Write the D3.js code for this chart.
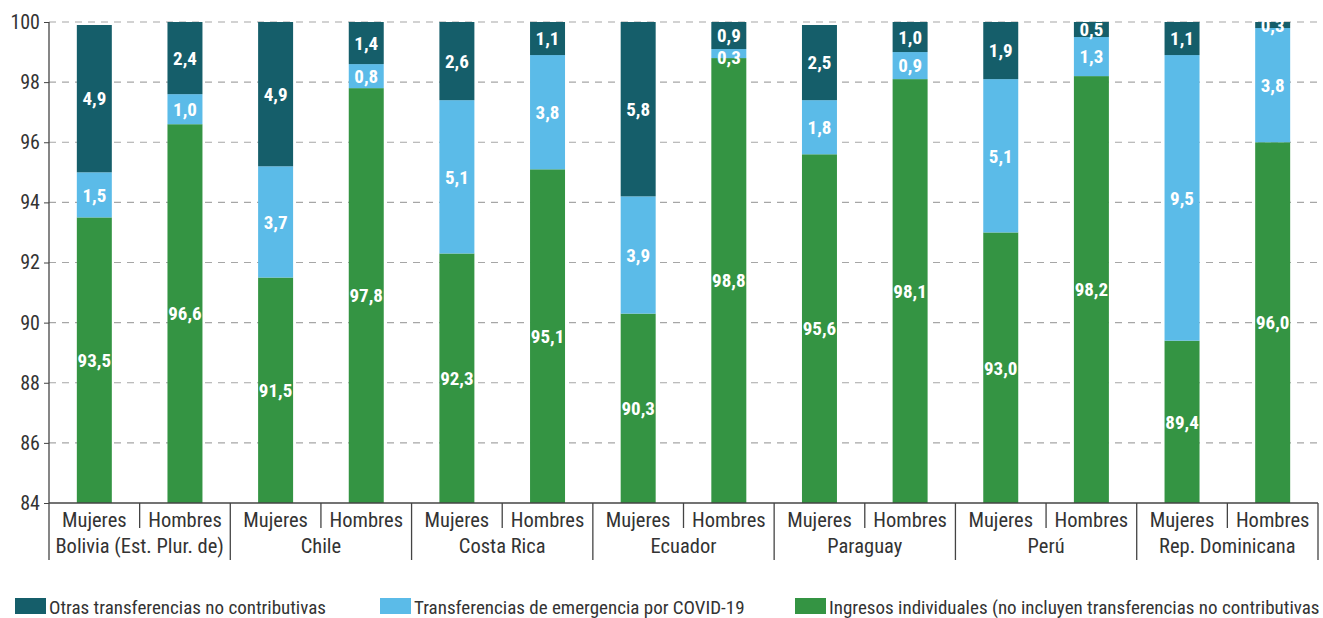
<!DOCTYPE html>
<html>
<head>
<meta charset="utf-8">
<script src="https://cdn.jsdelivr.net/npm/d3@7"></script>
<style>
  html, body { margin: 0; padding: 0; background: #fff; }
  svg { display: block; }
  text { font-family: "Liberation Sans Narrow", "Arial Narrow", "Roboto Condensed", "Liberation Sans", sans-serif; }
</style>
</head>
<body>
<svg id="chart" width="1323" height="618"></svg>
<script>
const countries = ["Bolivia (Est. Plur. de)", "Chile", "Costa Rica", "Ecuador", "Paraguay", "Perú", "Rep. Dominicana"];
const sexes = ["Mujeres", "Hombres"];
// values per country, [Mujeres, Hombres]
const ingresos = [[93.5, 96.6], [91.5, 97.8], [92.3, 95.1], [90.3, 98.8], [95.6, 98.1], [93.0, 98.2], [89.4, 96.0]];
const emergencia = [[1.5, 1.0], [3.7, 0.8], [5.1, 3.8], [3.9, 0.3], [1.8, 0.9], [5.1, 1.3], [9.5, 3.8]];
const otras = [[4.9, 2.4], [4.9, 1.4], [2.6, 1.1], [5.8, 0.9], [2.5, 1.0], [1.9, 0.5], [1.1, 0.3]];
const yTicks = [84, 86, 88, 90, 92, 94, 96, 98, 100];
const seriesNames = ["Otras transferencias no contributivas", "Transferencias de emergencia por COVID-19", "Ingresos individuales (no incluyen transferencias no contributivas"];
const colors = { ingresos: "#349443", emergencia: "#5bbbe8", otras: "#155e6a" };

const svg = d3.select("#chart");
const mLeft = 49, mRight = 1318, mTop = 22, mBottom = 503;

const x0 = d3.scaleBand().domain(countries).range([mLeft, mRight]).padding(0);
const x1 = d3.scaleBand().domain(sexes).range([0, x0.bandwidth()]).paddingInner(0.614).paddingOuter(0.307);
const y = d3.scaleLinear().domain([84, 100]).range([mBottom, mTop]);

// gridlines
svg.append("g").selectAll("line").data(yTicks.filter(t => t > 84)).join("line")
  .attr("x1", mLeft).attr("x2", 1323)
  .attr("y1", d => y(d)).attr("y2", d => y(d))
  .attr("stroke", "#a6a6a6").attr("stroke-width", 1.2).attr("stroke-dasharray", "7,6");

// build rows
const rows = [];
countries.forEach((c, i) => {
  sexes.forEach((s, j) => {
    const segs = [
      { key: "ingresos", v: ingresos[i][j] },
      { key: "emergencia", v: emergencia[i][j] },
      { key: "otras", v: otras[i][j] }
    ];
    let acc = 0;
    segs.forEach(sg => { sg.y0 = acc; acc += sg.v; sg.y1 = acc; });
    rows.push({ c, s, segs });
  });
});

const g = svg.append("g");
const minGap = 22;
rows.forEach(r => {
  const bx = x0(r.c) + x1(r.s);
  const bw = x1.bandwidth();
  r.segs.forEach(sg => {
    const lo = Math.max(sg.y0, 84), hi = Math.min(sg.y1, 100);
    if (hi <= lo) return;
    g.append("rect")
      .attr("x", bx).attr("width", bw)
      .attr("y", y(hi)).attr("height", y(lo) - y(hi))
      .attr("fill", colors[sg.key]);
  });
  // labels, placed from the top down, pushed apart if they collide
  let prevY = -Infinity;
  r.segs.slice().reverse().forEach(sg => {
    const lo = Math.max(sg.y0, 84), hi = Math.min(sg.y1, 100);
    let ly = (y(lo) + y(hi)) / 2;
    if (ly - prevY < minGap) ly = prevY + minGap;
    prevY = ly;
    g.append("text")
      .attr("x", bx + bw / 2)
      .attr("y", ly)
      .attr("dy", "0.36em")
      .attr("text-anchor", "middle")
      .attr("fill", "#fff")
      .attr("font-weight", "bold")
      .attr("font-size", 19)
      .text(d3.format(".1f")(sg.v).replace(".", ","));
  });
});

// y axis
const yAxis = svg.append("g").attr("transform", `translate(${mLeft},0)`)
  .call(d3.axisLeft(y).tickValues(yTicks).tickSize(5).tickPadding(4).tickFormat(d3.format("d")));
yAxis.select(".domain").remove();
yAxis.selectAll("line").attr("stroke", "#444");
yAxis.selectAll("text").attr("font-size", 20).attr("fill", "#333");
svg.append("line").attr("x1", mLeft).attr("x2", mLeft).attr("y1", mTop).attr("y2", 560)
  .attr("stroke", "#444").attr("stroke-width", 1.3);

// x axis
svg.append("line").attr("x1", mLeft).attr("x2", mRight).attr("y1", mBottom).attr("y2", mBottom)
  .attr("stroke", "#444").attr("stroke-width", 1.3);
countries.forEach((c, i) => {
  const gx = x0(c);
  svg.append("line").attr("x1", gx + x0.bandwidth() / 2).attr("x2", gx + x0.bandwidth() / 2)
    .attr("y1", mBottom).attr("y2", 528).attr("stroke", "#444").attr("stroke-width", 1.3);
  svg.append("line").attr("x1", gx + x0.bandwidth()).attr("x2", gx + x0.bandwidth())
    .attr("y1", mBottom).attr("y2", 560).attr("stroke", "#444").attr("stroke-width", 1.3);
  sexes.forEach(s => {
    svg.append("text").attr("x", gx + x1(s) + x1.bandwidth() / 2).attr("y", 527)
      .attr("text-anchor", "middle").attr("font-size", 20.5).attr("fill", "#333").text(s);
  });
  svg.append("text").attr("x", gx + x0.bandwidth() / 2).attr("y", 553)
    .attr("text-anchor", "middle").attr("font-size", 20.5).attr("fill", "#333").text(c);
});

// legend
const legendItems = [
  { name: seriesNames[0], color: colors.otras, x: 15 },
  { name: seriesNames[1], color: colors.emergencia, x: 380 },
  { name: seriesNames[2], color: colors.ingresos, x: 795 }
];
const lg = svg.append("g");
legendItems.forEach(it => {
  lg.append("rect").attr("x", it.x).attr("y", 598).attr("width", 31).attr("height", 16).attr("fill", it.color);
  lg.append("text").attr("x", it.x + 34).attr("y", 614).attr("font-size", 19).attr("fill", "#333").text(it.name);
});
</script>
</body>
</html>
